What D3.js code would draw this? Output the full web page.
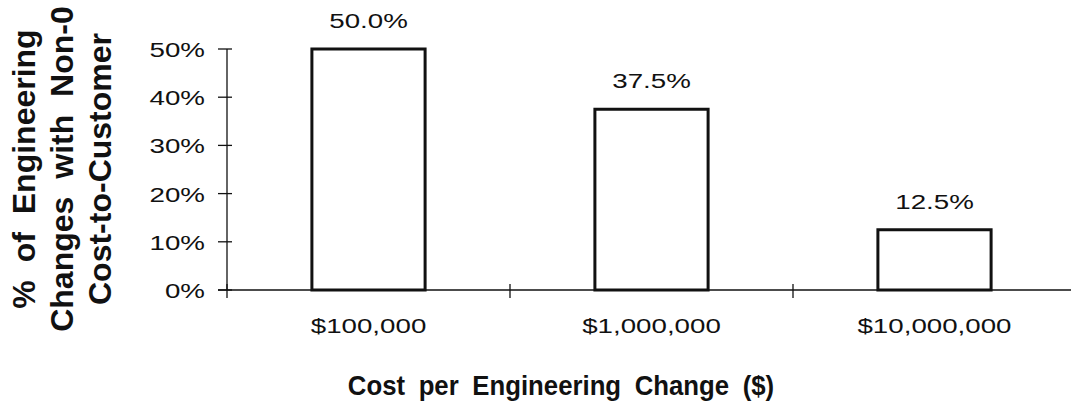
<!DOCTYPE html>
<html>
<head>
<meta charset="utf-8">
<script src="https://cdn.jsdelivr.net/npm/d3@7"></script>
<style>
  html, body { margin: 0; padding: 0; background: #fff; }
  svg { display: block; }
  text { font-family: "Liberation Sans", Arial, Helvetica, sans-serif; fill: #111; }
</style>
</head>
<body>
<svg id="chart" width="1071" height="406"></svg>
<script>
// Share of engineering changes with a non-zero cost to the customer,
// grouped by cost per engineering change.
const categories = ["$100,000", "$1,000,000", "$10,000,000"];
const shares = [50.0, 37.5, 12.5];
const valueLabels = ["50.0%", "37.5%", "12.5%"];
const yTicks = [0, 10, 20, 30, 40, 50];
const yTickLabels = ["0%", "10%", "20%", "30%", "40%", "50%"];
const yTitleLines = ["% of Engineering", "Changes with Non-0", "Cost-to-Customer"];
const xTitle = "Cost per Engineering Change ($)";

const svg = d3.select("#chart");
const W = 1071, H = 406;
const m = { left: 227, right: -5, top: 49, bottom: 116 };
const wide = 1.32; // horizontal stretch of the label face

const x = d3.scaleBand()
  .domain(categories)
  .range([m.left, W - m.right])
  .paddingInner(0.6)
  .paddingOuter(0.3);

const y = d3.scaleLinear()
  .domain([0, 50])
  .range([H - m.bottom, m.top]);

const ink = "#111";
const place = (px, py, sx = wide) => `translate(${px},${py}) scale(${sx},1)`;

// Y axis: line with ticks crossing it
const yAxis = svg.append("g");
yAxis.append("line")
  .attr("x1", m.left).attr("x2", m.left)
  .attr("y1", y(50)).attr("y2", y(0))
  .attr("stroke", ink).attr("stroke-width", 1.3);
yAxis.selectAll("line.tick").data(yTicks).join("line")
  .attr("class", "tick")
  .attr("x1", m.left - 9).attr("x2", m.left + 5)
  .attr("y1", d => y(d)).attr("y2", d => y(d))
  .attr("stroke", ink).attr("stroke-width", 1.3);
yAxis.selectAll("text").data(yTicks).join("text")
  .attr("transform", d => place(m.left - 22, y(d)))
  .attr("dy", "0.38em")
  .attr("text-anchor", "end")
  .attr("font-size", 21)
  .text((d, i) => yTickLabels[i]);

// X axis: baseline with ticks at category boundaries
const step = x.step();
const bounds = categories.slice(1).map(c => x(c) - x.paddingInner() * step / 2);
const xAxis = svg.append("g");
xAxis.append("line")
  .attr("x1", m.left - 9).attr("x2", W)
  .attr("y1", y(0)).attr("y2", y(0))
  .attr("stroke", ink).attr("stroke-width", 1.6);
xAxis.selectAll("line.tick").data([m.left].concat(bounds)).join("line")
  .attr("class", "tick")
  .attr("x1", d => d).attr("x2", d => d)
  .attr("y1", y(0) - 6).attr("y2", y(0) + 8)
  .attr("stroke", ink).attr("stroke-width", 1.3);
xAxis.selectAll("text").data(categories).join("text")
  .attr("transform", d => place(x(d) + x.bandwidth() / 2, y(0) + 43))
  .attr("text-anchor", "middle")
  .attr("font-size", 21)
  .text(d => d);

// Bars
svg.append("g").selectAll("rect").data(categories).join("rect")
  .attr("x", d => x(d))
  .attr("y", (d, i) => y(shares[i]))
  .attr("width", x.bandwidth())
  .attr("height", (d, i) => y(0) - y(shares[i]))
  .attr("fill", "#fff")
  .attr("stroke", ink)
  .attr("stroke-width", 3);

// Value labels above bars
svg.append("g").selectAll("text").data(categories).join("text")
  .attr("transform", (d, i) => place(x(d) + x.bandwidth() / 2, y(shares[i]) - 21))
  .attr("text-anchor", "middle")
  .attr("font-size", 21)
  .text((d, i) => valueLabels[i]);

// Axis titles
svg.append("text")
  .attr("transform", place(561, 395, 0.92))
  .attr("text-anchor", "middle")
  .attr("font-size", 28)
  .attr("font-weight", "bold")
  .style("word-spacing", "7px")
  .text(xTitle);

const yt = svg.append("text")
  .attr("transform", "translate(0,169) rotate(-90)")
  .attr("text-anchor", "middle")
  .attr("font-size", 32)
  .attr("font-weight", "bold")
  .style("word-spacing", "9px");
yt.selectAll("tspan").data(yTitleLines).join("tspan")
  .attr("x", 0)
  .attr("y", (d, i) => 35 + i * 38)
  .text(d => d);
</script>
</body>
</html>
